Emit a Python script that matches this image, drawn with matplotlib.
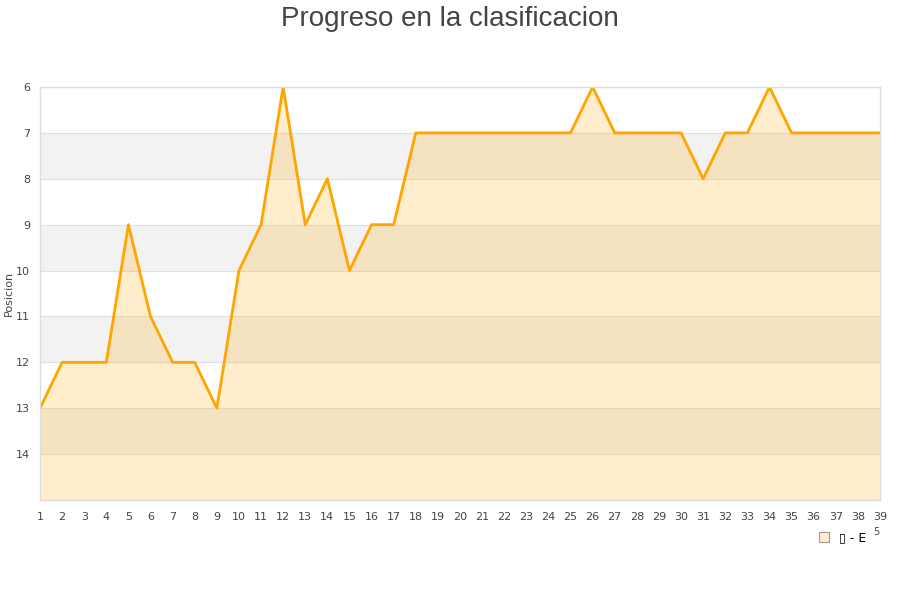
import matplotlib
matplotlib.use("Agg")
import matplotlib.pyplot as plt
from matplotlib.patches import Patch

jornadas = list(range(1, 40))
posiciones = [13, 12, 12, 12, 9, 11, 12, 12, 13, 10, 9, 6, 9, 8, 10, 9, 9, 7,
              7, 7, 7, 7, 7, 7, 7, 6, 7, 7, 7, 7, 8, 7, 7, 6, 7, 7, 7, 7, 7]
yticks = [6, 7, 8, 9, 10, 11, 12, 13, 14]
titulo = "Progreso en la clasificacion"
etiqueta_y = "Posicion"
leyenda = "\u25af - E"

plt.rcParams['font.family'] = ['DejaVu Sans']
fig = plt.figure(figsize=(9, 6), dpi=100)
ax = fig.add_axes([40/900, 1-500/600, 840/900, 413/600])

ymin, ymax = 6, 15
for b in [7, 9, 11, 13]:
    ax.axhspan(b, b+1, color='#f2f2f2', zorder=0, lw=0)
for y in range(6, 15):
    ax.axhline(y, color='#e0e0e0', lw=0.8, zorder=0.5)

ax.fill_between(jornadas, posiciones, ymax, color='#ffa500', alpha=0.2, lw=0, zorder=1)
ax.plot(jornadas, posiciones, color='#ffa500', lw=2, zorder=2)

ax.set_xlim(1, 39)
ax.set_ylim(ymax, ymin)
ax.set_xticks(jornadas)
ax.set_yticks(yticks)
ax.tick_params(axis='both', length=0, labelsize=8, colors='#444444')
ax.tick_params(axis='x', pad=9)
ax.tick_params(axis='y', pad=7)
for s in ax.spines.values():
    s.set_color('#dddddd')
    s.set_linewidth(1)

ax.set_ylabel(etiqueta_y, fontsize=8, color='#444444')
ax.yaxis.set_label_coords(-26/840, 0.5)
fig.text(0.5, 1-6/600, titulo, ha='center', va='top', fontsize=20, color='#444444',
         family='Liberation Sans')

h = [Patch(facecolor='#ffeecc', edgecolor='#999999', lw=0.8)]
leg = fig.legend(h, [leyenda], loc='center', bbox_to_anchor=(843/900, 1-538/600),
                 frameon=False, fontsize=9, handlelength=0.8, handleheight=0.8,
                 handletextpad=0.8)
fig.text(876/900, 1-532/600, "5", fontsize=7, color='#444444', ha='center', va='center')

fig.savefig("out.png", dpi=100, facecolor='white')
